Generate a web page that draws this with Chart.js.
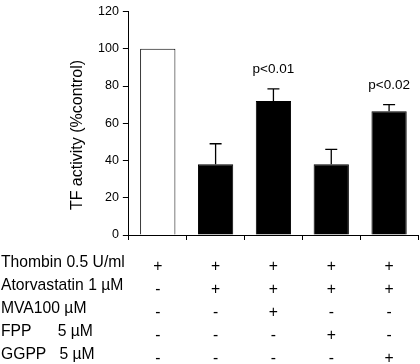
<!DOCTYPE html>
<html>
<head>
<meta charset="utf-8">
<script src="https://cdn.jsdelivr.net/npm/chart.js@4"></script>
<style>
  html, body { margin: 0; padding: 0; background: #fff; }
  #wrap { width: 420px; height: 364px; position: relative; }
</style>
</head>
<body>
<div id="wrap"><canvas id="chart"></canvas></div>
<script>
// valeurs
const groups = ['1', '2', '3', '4', '5'];
const tfActivity = [100, 38, 72, 38, 66.5];
const errUp = [0, 11, 6.5, 8, 3.5];
const pLabels = ['', '', 'p<0.01', '', 'p<0.02'];
const yTicks = [0, 20, 40, 60, 80, 100, 120];

// tableau des traitements sous le graphique
const rowLabels = ['Thombin 0.5 U/ml', 'Atorvastatin 1 \u00b5M', 'MVA100 \u00b5M', 'FPP      5 \u00b5M', 'GGPP   5 \u00b5M'];
const thrombin = ['+', '+', '+', '+', '+'];
const atorva = ['-', '+', '+', '+', '+'];
const mva = ['-', '-', '+', '-', '-'];
const fpp = ['-', '-', '-', '+', '-'];
const ggpp = ['-', '-', '-', '-', '+'];
const signRows = [thrombin, atorva, mva, fpp, ggpp];

const FONT = '"Liberation Sans", Arial, sans-serif';

const errorBars = {
    id: 'errorBars',
    afterDatasetsDraw(chart) {
        const ctx = chart.ctx;
        const meta = chart.getDatasetMeta(0);
        const y = chart.scales.y;
        ctx.save();
        ctx.strokeStyle = '#000';
        ctx.lineWidth = 1.3;
        meta.data.forEach((bar, i) => {
            if (!errUp[i]) return;
            const top = y.getPixelForValue(tfActivity[i] + errUp[i]);
            ctx.beginPath();
            ctx.moveTo(bar.x, bar.y);
            ctx.lineTo(bar.x, top);
            ctx.moveTo(bar.x - 6, top);
            ctx.lineTo(bar.x + 6, top);
            ctx.stroke();
            if (pLabels[i]) {
                ctx.fillStyle = '#000';
                ctx.font = '13.5px ' + FONT;
                ctx.textAlign = 'center';
                ctx.textBaseline = 'bottom';
                ctx.fillText(pLabels[i], bar.x, top - 13);
            }
        });
        ctx.restore();
    }
};

const treatmentTable = {
    id: 'treatmentTable',
    afterDraw(chart) {
        const ctx = chart.ctx;
        const meta = chart.getDatasetMeta(0);
        ctx.save();
        ctx.fillStyle = '#000';
        ctx.font = '15.7px ' + FONT;
        ctx.textBaseline = 'middle';
        rowLabels.forEach((lab, r) => {
            const yy = 263 + r * 23;
            ctx.textAlign = 'left';
            ctx.fillText(lab, 1, yy);
            ctx.textAlign = 'center';
            signRows[r].forEach((s, i) => {
                ctx.fillText(s, meta.data[i].x, yy + 4);
            });
        });
        ctx.restore();
    }
};

new Chart(document.getElementById('chart'), {
    type: 'bar',
    data: {
        labels: groups,
        datasets: [{
            data: tfActivity,
            backgroundColor: ['#ffffff', '#000', '#000', '#000', '#000'],
            borderColor: '#000',
            borderWidth: 1,
            barPercentage: 1,
            categoryPercentage: 0.61
        }]
    },
    options: {
        responsive: true,
        maintainAspectRatio: false,
        animation: false,
        devicePixelRatio: 1,
        layout: { padding: { left: 94, right: 2, top: 1, bottom: 124 } },
        plugins: { legend: { display: false }, tooltip: { enabled: false } },
        scales: {
            x: {
                border: { color: '#000', width: 1 },
                grid: { drawOnChartArea: false, color: '#000', tickLength: 5, offset: true },
                ticks: { display: false }
            },
            y: {
                min: 0, max: 120,
                afterBuildTicks(scale) { scale.ticks = yTicks.map(v => ({ value: v })); },
                border: { color: '#000', width: 1 },
                grid: { drawOnChartArea: false, color: '#000', tickLength: 6 },
                ticks: { color: '#000', font: { family: FONT, size: 12.5 }, padding: 4 },
                title: { display: false }
            }
        }
    },
    plugins: [errorBars, treatmentTable, {
        id: 'yTitle',
        afterDraw(chart) {
            const ctx = chart.ctx;
            ctx.save();
            ctx.translate(78, 135);
            ctx.rotate(-Math.PI / 2);
            ctx.fillStyle = '#000';
            ctx.font = '16px ' + FONT;
            ctx.textAlign = 'center';
            ctx.textBaseline = 'middle';
            ctx.fillText('TF activity (%control)', 0, 0);
            ctx.restore();
        }
    }]
});
</script>
</body>
</html>
